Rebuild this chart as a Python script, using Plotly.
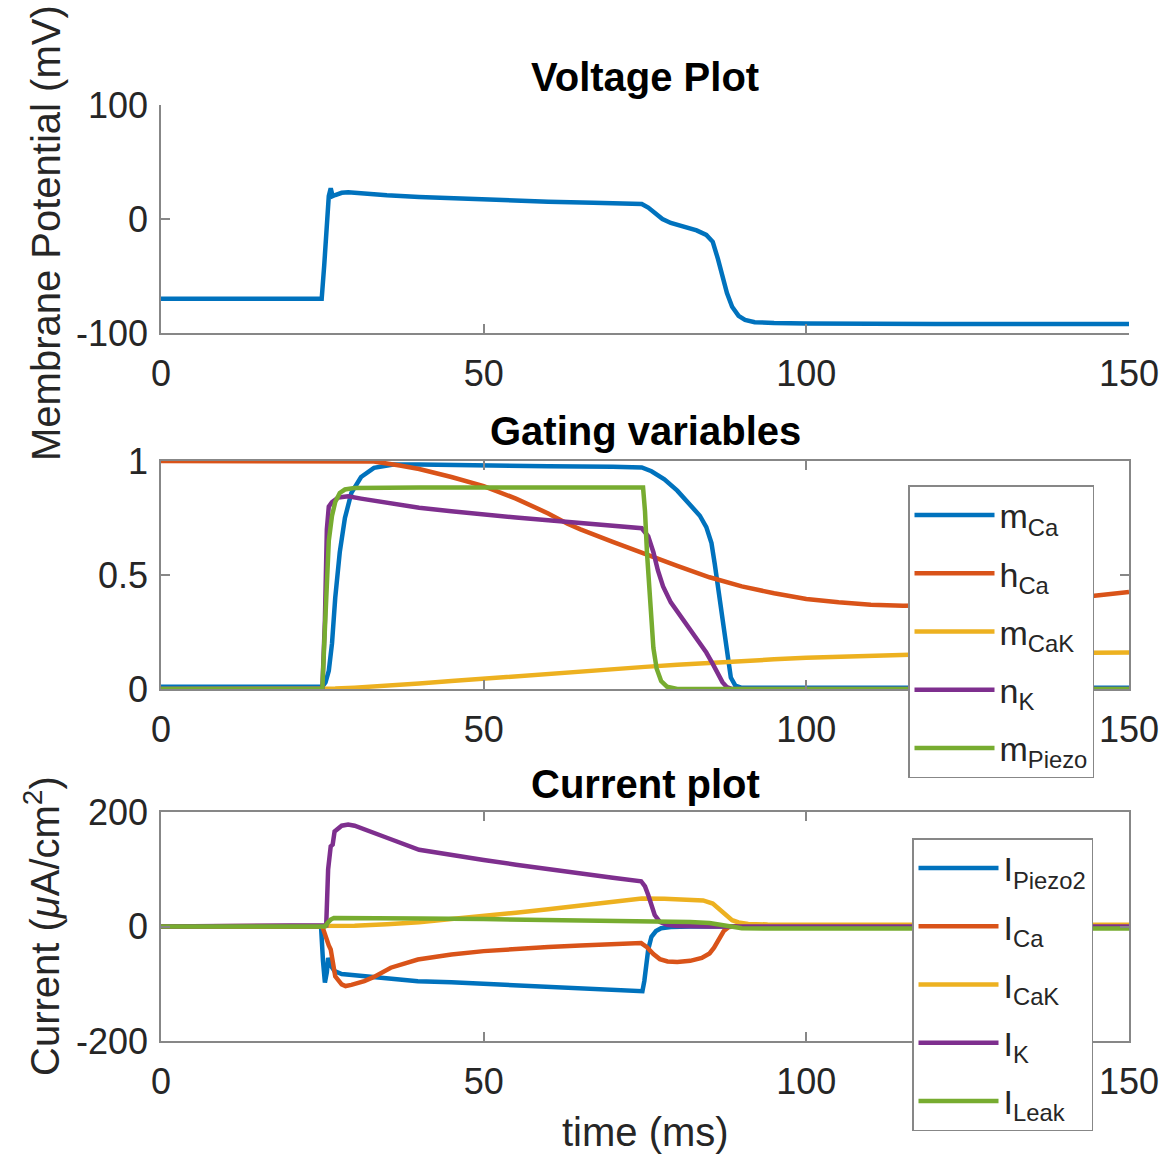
import plotly.graph_objects as go

# ---------------- data ----------------
t_V = [0, 24.9, 25.3, 25.7, 26.0, 26.3, 26.6, 27.0, 28, 29, 32, 35, 40, 47, 55, 60, 67, 74.5,
       75.5, 76.5, 77.7, 79, 81, 83, 84.5, 85.5, 86.3, 87, 87.7, 88.5, 89.5, 90.5, 92, 95, 100, 120, 150]
V_mem = [-70, -70, -40, -5, 20, 27, 20, 21, 23, 23.5, 22, 20.8, 19.3, 17.6, 16, 15.2, 14.2, 13.2,
         10, 5, 0, -3.5, -6.5, -10, -14, -20, -35, -50, -65, -77, -85, -88.5, -90.5, -91.3, -91.7, -92, -92.2]

t_mCa = [0, 25, 25.5, 26, 26.5, 27, 27.7, 28.5, 29.5, 31, 33, 36, 40, 50, 60, 70, 74.5, 76, 78, 80,
         82, 83.5, 84.5, 85.3, 85.8, 86.3, 86.8, 87.3, 87.8, 88.3, 89, 90, 150]
m_Ca = [0.01, 0.01, 0.03, 0.08, 0.2, 0.4, 0.6, 0.75, 0.86, 0.93, 0.97, 0.985, 0.985, 0.98, 0.977,
        0.975, 0.972, 0.955, 0.92, 0.87, 0.81, 0.76, 0.71, 0.64, 0.55, 0.45, 0.33, 0.22, 0.12, 0.05,
        0.015, 0.005, 0.005]

t_hCa = [0, 30, 33, 37, 40, 45, 50, 55, 60, 63, 65, 70, 75, 80, 85, 90, 95, 100, 105, 110, 115,
         120, 125, 130, 135, 140, 145, 150]
h_Ca = [1.0, 1.0, 0.998, 0.98, 0.965, 0.93, 0.89, 0.835, 0.77, 0.725, 0.70, 0.645, 0.59, 0.54,
        0.49, 0.45, 0.42, 0.395, 0.38, 0.37, 0.365, 0.365, 0.368, 0.375, 0.385, 0.395, 0.41, 0.425]

t_mCaK = [0, 25, 27, 30, 35, 40, 45, 50, 55, 60, 65, 70, 75, 80, 85, 90, 95, 100, 110, 120, 130, 140, 150]
m_CaK = [0, 0, 0.002, 0.006, 0.014, 0.024, 0.035, 0.046, 0.057, 0.068, 0.078, 0.088, 0.097,
         0.106, 0.115, 0.123, 0.13, 0.137, 0.147, 0.153, 0.156, 0.158, 0.16]

t_nK = [0, 25, 25.4, 25.7, 26, 26.5, 27.5, 29, 31, 35, 40, 45, 50, 55, 60, 65, 70, 74.5, 75.5,
        76.3, 77, 77.8, 79, 80.5, 82, 83.5, 84.5, 85.5, 86.3, 87, 87.7, 88.5, 150]
n_K = [0, 0, 0.3, 0.7, 0.8, 0.82, 0.84, 0.845, 0.835, 0.815, 0.795, 0.78, 0.765, 0.752, 0.74,
       0.728, 0.715, 0.705, 0.67, 0.6, 0.52, 0.45, 0.38, 0.32, 0.26, 0.2, 0.16, 0.11, 0.07, 0.03,
       0.008, 0, 0]

t_mPiezo = [0, 25, 25.3, 25.6, 26, 26.5, 27, 27.7, 28.5, 30, 40, 74.7, 75.0, 75.3, 75.6, 75.9,
            76.3, 76.8, 77.5, 78.4, 80, 150]
m_Piezo = [0, 0, 0.2, 0.45, 0.65, 0.76, 0.82, 0.86, 0.875, 0.882, 0.884, 0.884, 0.78, 0.6, 0.45,
           0.31, 0.18, 0.09, 0.035, 0.01, 0, 0]

t_IPiezo2 = [0, 24.8, 25.1, 25.4, 25.7, 25.9, 26.3, 26.9, 28, 31.5, 35, 39.8, 45, 50, 55, 60, 65,
             70, 74.6, 74.9, 75.2, 75.5, 76, 76.7, 77.5, 79, 82, 150]
I_Piezo2 = [0, 0, -60, -98, -80, -55, -68, -78, -83, -87, -91, -95.5, -97.5, -100, -103, -106,
            -108, -110.5, -113, -95, -65, -40, -18, -8, -3, -1, 0, 0]

t_ICa = [0, 25, 25.3, 25.6, 26, 26.3, 27, 28, 28.6, 29.5, 31.5, 33, 35.6, 39.8, 45, 50, 55, 60,
         65, 70, 74.4, 75.3, 76.3, 77.3, 78.5, 80, 82, 83.8, 85, 85.7, 86.5, 87.2, 88, 89, 150]
I_Ca = [0, 0, -10, -22, -33, -40, -87, -101, -104, -102, -95.5, -88, -72, -57.6, -49, -43, -39,
        -36, -33, -31, -29, -36, -48, -57, -61, -62, -60, -55, -47, -37, -22, -8, -1, 0.5, 1]

t_ICaK = [0, 25, 26, 28, 30, 35, 40, 45, 50, 55, 60, 65, 70, 74.5, 78, 82, 84, 85.5, 86.5, 87.5,
          88.5, 89.5, 91, 94, 100, 150]
I_CaK = [0, 0, 0.5, 1, 1.5, 4, 7.5, 13, 18, 24, 30, 37, 44, 49, 48.5, 47.5, 45.5, 40, 30, 19,
         11, 7, 4.5, 3.5, 3, 3]

t_IK = [0, 25.6, 25.9, 26.3, 26.6, 26.9, 28, 29, 30, 32.6, 35, 40, 45, 50, 55, 60, 65, 70, 74.4,
        75, 75.5, 76, 76.5, 77.3, 78.4, 80, 85, 150]
I_K = [0, 2, 100, 140, 143, 166, 176, 178, 176, 164, 155, 134, 124, 116, 108, 100, 92, 85, 79,
       70, 55, 35, 20, 8, 3, 1, 0, 0]

t_ILeak = [0, 25.4, 25.8, 26.3, 26.8, 30, 40, 50, 60, 70, 74.5, 78, 82, 85, 87, 88.5, 90, 95, 150]
I_Leak = [0, 0, 6, 12, 15, 15, 14, 13, 12, 11, 10.5, 9.5, 8, 6, 3, -1, -3, -3.5, -3.5]

x_ticks = [0, 50, 100, 150]
x_ticklabels = ["0", "50", "100", "150"]
V_ticks = [-100, 0, 100]
V_ticklabels = ["-100", "0", "100"]
gate_ticks = [0, 0.5, 1]
gate_ticklabels = ["0", "0.5", "1"]
I_ticks = [-200, 0, 200]
I_ticklabels = ["-200", "0", "200"]

gate_names = ["m<sub>Ca</sub>", "h<sub>Ca</sub>", "m<sub>CaK</sub>", "n<sub>K</sub>", "m<sub>Piezo</sub>"]
current_names = ["I<sub>Piezo2</sub>", "I<sub>Ca</sub>", "I<sub>CaK</sub>", "I<sub>K</sub>", "I<sub>Leak</sub>"]
colors = ["#0072BD", "#D95319", "#EDB120", "#7E2F8E", "#77AC30"]

# ---------------- figure ----------------
W, H = 1165, 1154
FONT = "Liberation Sans, Arial, Helvetica, sans-serif"
AX_COL = "#878787"
TXT_COL = "#262626"
LW = 4.5


def px(x):
    return x / W


def py(y):
    return 1 - y / H


fig = go.Figure()

fig.add_trace(go.Scatter(x=t_V, y=V_mem, mode="lines", line=dict(color=colors[0], width=LW),
                         showlegend=False, xaxis="x", yaxis="y"))

gate_t = [t_mCa, t_hCa, t_mCaK, t_nK, t_mPiezo]
gate_v = [m_Ca, h_Ca, m_CaK, n_K, m_Piezo]
for i in range(5):
    fig.add_trace(go.Scatter(x=gate_t[i], y=gate_v[i], mode="lines", name=gate_names[i],
                             line=dict(color=colors[i], width=LW), xaxis="x2", yaxis="y2",
                             legend="legend", legendgroup="g%d" % i))

cur_t = [t_IPiezo2, t_ICa, t_ICaK, t_IK, t_ILeak]
cur_v = [I_Piezo2, I_Ca, I_CaK, I_K, I_Leak]
for i in range(5):
    fig.add_trace(go.Scatter(x=cur_t[i], y=cur_v[i], mode="lines", name=current_names[i],
                             line=dict(color=colors[i], width=LW), xaxis="x3", yaxis="y3",
                             legend="legend2", legendgroup="c%d" % i))

xdom = [px(161), px(1129)]
common_axis = dict(showline=True, linecolor=AX_COL, linewidth=1.5, ticks="inside", ticklen=9,
                   tickwidth=1.5, tickcolor=AX_COL, showgrid=False, zeroline=False,
                   automargin=False, tickfont=dict(family=FONT, size=36, color=TXT_COL))
xcommon = dict(domain=xdom, range=[0, 150], tickvals=x_ticks, ticktext=x_ticklabels,
               ticklabelstandoff=8, **common_axis)

fig.update_layout(
    width=W, height=H,
    margin=dict(l=0, r=0, t=0, b=0, autoexpand=False),
    paper_bgcolor="white", plot_bgcolor="white",
    font=dict(family=FONT, color=TXT_COL),
    xaxis=dict(anchor="y", mirror=False, **xcommon),
    yaxis=dict(domain=[py(333), py(105)], range=[-100, 100], tickvals=V_ticks,
               ticktext=V_ticklabels, anchor="x", mirror=False, ticklabelstandoff=4,
               **common_axis),
    xaxis2=dict(anchor="y2", mirror="ticks", **xcommon),
    yaxis2=dict(domain=[py(689), py(461)], range=[0, 1], tickvals=gate_ticks,
                ticktext=gate_ticklabels, anchor="x2", mirror="ticks", ticklabelstandoff=4,
                **common_axis),
    xaxis3=dict(anchor="y3", mirror="ticks", **xcommon),
    yaxis3=dict(domain=[py(1041), py(812)], range=[-200, 200], tickvals=I_ticks,
                ticktext=I_ticklabels, anchor="x3", mirror="ticks", ticklabelstandoff=4,
                **common_axis),
    legend=dict(x=px(908), y=py(485), xanchor="left", yanchor="top", bgcolor="white",
                bordercolor=AX_COL, borderwidth=1.5, itemwidth=80, tracegroupgap=11,
                font=dict(family=FONT, size=34, color=TXT_COL)),
    legend2=dict(x=px(912), y=py(838), xanchor="left", yanchor="top", bgcolor="white",
                 bordercolor=AX_COL, borderwidth=1.5, itemwidth=80, tracegroupgap=11,
                 font=dict(family=FONT, size=34, color=TXT_COL)),
)

title_font = dict(family=FONT, size=40, color="black")
label_font = dict(family=FONT, size=40, color=TXT_COL)
annotations = [
    dict(text="<b>Voltage Plot</b>", x=px(645), y=py(77), font=title_font),
    dict(text="<b>Gating variables</b>", x=px(645), y=py(431), font=title_font),
    dict(text="<b>Current plot</b>", x=px(645), y=py(784), font=title_font),
    dict(text="Membrane Potential (mV)", x=px(46), y=py(233), textangle=-90, font=label_font),
    dict(text="Current (<i>μ</i>A/cm<sup>2</sup>)", x=px(42), y=py(926), textangle=-90,
         font=label_font),
    dict(text="time (ms)", x=px(645), y=py(1132), font=label_font),
]
for a in annotations:
    a.update(xref="paper", yref="paper", showarrow=False, xanchor="center", yanchor="middle")
fig.update_layout(annotations=annotations)

fig.write_html("out.html", config={"displayModeBar": False},
               post_script="document.body.style.margin='0px';"
                           "document.body.style.overflow='hidden';")
